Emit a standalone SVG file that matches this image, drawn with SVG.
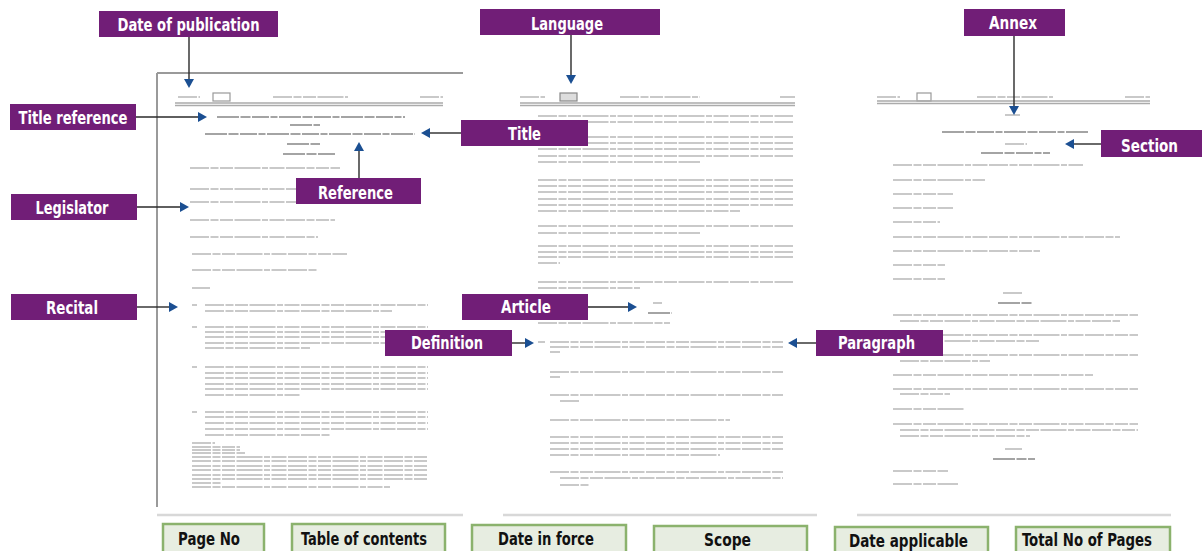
<svg xmlns="http://www.w3.org/2000/svg" width="1203" height="551" viewBox="0 0 1203 551">
  <style>
    .lbl rect { fill: #711e77; }
    .lbl text { fill: #ffffff; font-family: "Liberation Sans Narrow", "DejaVu Sans Condensed", "Liberation Sans", sans-serif; font-weight: bold; font-size: 18.5px; text-anchor: middle; }
    .tag rect { fill: #e7ede1; stroke: #8bb26d; stroke-width: 2.5; }
    .tag text { fill: #111111; font-family: "Liberation Sans Narrow", "DejaVu Sans Condensed", "Liberation Sans", sans-serif; font-weight: bold; font-size: 18.5px; text-anchor: middle; }
    .tl { fill: none; stroke: #c9c9c9; stroke-width: 2; stroke-dasharray: 19 1.5 8 1.5 13 1.5 26 1.5 6 1.5 15 1.5; }
    .td { fill: none; stroke: #a4a4a4; stroke-width: 2.2; stroke-dasharray: 22 1.5 10 1.5 17 1.5 7 1.5; }
    .rule { fill: none; stroke: #ababab; stroke-width: 1.3; }
    .frame { fill: none; stroke: #9a9a9a; stroke-width: 2; }
    .edge { fill: none; stroke: #d8d8d8; stroke-width: 2.5; }
    .conn line { stroke: #2a2a2a; stroke-width: 1.4; marker-end: url(#ah); }
  </style>
  <defs>
    <marker id="ah" viewBox="0 0 9 10" refX="0" refY="5" markerWidth="9" markerHeight="10" markerUnits="userSpaceOnUse" orient="auto">
      <path d="M0,0 L9,5 L0,10 Z" fill="#1b4f92"/>
    </marker>
  </defs>

  <rect width="1203" height="551" fill="#ffffff"/>

  <!-- Page 1: directive first page -->
  <g id="page1">
    <path class="frame" d="M157,73 H463 M157,73 V507"/>
    <path class="edge" d="M157,515 H463"/>
    <path class="tl" d="M178,97 H200 M273,97 H348 M420,97 H443"/>
    <rect x="213" y="93" width="17" height="8" fill="none" stroke="#999" stroke-width="1.2"/>
    <path class="rule" d="M175,103 H443 M175,105.5 H443"/>
    <path class="td" d="M217,117 H405 M290,125 H320 M205,134 H415 M287,144 H320 M283,154 H335"/>
    <path class="tl" d="M190,168 H340 M190,189 H310 M190,202 H310 M190,220 H335 M190,237 H318 M192,254 H347 M192,270 H318 M192,288 H210"/>
    <path class="tl" d="M192,305 H197 M192,327 H197 M192,367 H197 M192,412 H197"/>
    <path class="tl" d="M205,305 H428 M205,311 H392
      M205,327 H428 M205,332 H428 M205,337 H428 M205,343 H428 M205,348 H310
      M205,367 H428 M205,373 H428 M205,378 H428 M205,384 H428 M205,389 H428 M205,395 H300
      M205,412 H428 M205,417 H428 M205,423 H428 M205,429 H428 M205,435 H330"/>
    <path class="tl" d="M192,443 H215 M192,447 H240 M192,450 H240 M192,453 H245
      M192,457 H428 M192,461 H428 M192,466 H428 M192,470 H428 M192,475 H428 M192,479 H428 M192,483 H222 M192,487 H390"/>
  </g>

  <!-- Page 2: articles page -->
  <g id="page2">
    <path class="edge" d="M503,515 H817"/>
    <path class="tl" d="M520,97 H545 M620,97 H700 M780,97 H795"/>
    <rect x="560" y="93" width="17" height="8" fill="#dddddd" stroke="#888" stroke-width="1.2"/>
    <path class="rule" d="M520,103 H795 M520,105.5 H795"/>
    <path class="tl" d="M538,116 H793 M538,122 H793
      M538,137 H793 M538,143 H793 M538,149 H793 M538,156 H793 M538,162 H700
      M538,180 H793 M538,186 H793 M538,192 H793 M538,199 H793 M538,205 H793 M538,211 H740
      M538,226 H793 M538,233 H700
      M538,246 H793 M538,252 H793 M538,257 H793 M538,263 H560
      M538,282 H793 M538,288 H640"/>
    <path class="tl" d="M653,303 H662"/>
    <path class="td" d="M648,313 H672"/>
    <path class="tl" d="M538,323 H670
      M538,342 H545 M550,342 H783 M550,347 H783 M550,352 H560
      M550,372 H783 M550,377 H560
      M550,395 H783 M560,401 H580
      M550,420 H730
      M550,437 H783 M550,443 H783 M550,449 H783 M550,455 H720
      M550,472 H783 M560,478 H783 M560,485 H590"/>
  </g>

  <!-- Page 3: annex page -->
  <g id="page3">
    <path class="edge" d="M857,515 H1171"/>
    <path class="tl" d="M877,97 H900 M977,97 H1053 M1125,97 H1150"/>
    <rect x="917" y="93" width="14" height="8" fill="none" stroke="#999" stroke-width="1.2"/>
    <path class="rule" d="M877,101 H1150 M877,103.5 H1150"/>
    <path class="tl" d="M1005,115 H1020 M1005,144 H1027 M1003,293 H1023 M1005,449 H1022"/>
    <path class="td" d="M942,132 H1088 M981,153 H1050 M998,303 H1032 M993,459 H1035"/>
    <path class="tl" d="M893,165 H1083 M893,180 H985 M893,194 H953 M893,208 H953 M893,222 H940
      M893,237 H1120 M893,251 H1040 M893,265 H945 M893,279 H945
      M893,315 H1138 M900,321 H1120
      M893,335 H1138 M900,341 H1040
      M893,355 H1138 M900,361 H990
      M893,375 H1093
      M893,389 H1138 M900,394 H950
      M893,409 H965
      M893,424 H1138 M900,430 H1138 M900,436 H1030
      M893,471 H948 M893,484 H958"/>
  </g>

  <!-- Connectors -->
  <g id="connectors" class="conn">
    <line x1="189" y1="37" x2="189" y2="79"/>
    <line x1="136" y1="117" x2="198" y2="117"/>
    <line x1="137" y1="207" x2="180" y2="207"/>
    <line x1="137" y1="307" x2="169" y2="307"/>
    <line x1="359" y1="178" x2="359" y2="151"/>
    <line x1="461" y1="133" x2="430" y2="133"/>
    <line x1="571" y1="35" x2="571" y2="75"/>
    <line x1="588" y1="307" x2="628" y2="307"/>
    <line x1="512" y1="343" x2="525" y2="343"/>
    <line x1="816" y1="343" x2="797" y2="343"/>
    <line x1="1014" y1="36" x2="1014" y2="106"/>
    <line x1="1101" y1="144" x2="1074" y2="144"/>
  </g>

  <!-- Callout labels -->
  <g id="date-of-publication" class="lbl"><rect x="99" y="11" width="179" height="26"/><text x="188.5" y="31" textLength="142" lengthAdjust="spacingAndGlyphs">Date of publication</text></g>
  <g id="title-reference" class="lbl"><rect x="10" y="104" width="126" height="26"/><text x="73" y="124" textLength="109" lengthAdjust="spacingAndGlyphs">Title reference</text></g>
  <g id="legislator" class="lbl"><rect x="11" y="194" width="126" height="26"/><text x="72" y="214" textLength="73" lengthAdjust="spacingAndGlyphs">Legislator</text></g>
  <g id="recital" class="lbl"><rect x="11" y="294" width="126" height="26"/><text x="72" y="314" textLength="52" lengthAdjust="spacingAndGlyphs">Recital</text></g>
  <g id="reference" class="lbl"><rect x="296" y="178" width="125" height="26"/><text x="355.5" y="199" textLength="75" lengthAdjust="spacingAndGlyphs">Reference</text></g>
  <g id="title" class="lbl"><rect x="461" y="120" width="127" height="26"/><text x="524.5" y="140" textLength="33" lengthAdjust="spacingAndGlyphs">Title</text></g>
  <g id="language" class="lbl"><rect x="480" y="9" width="180" height="26"/><text x="567" y="30" textLength="72" lengthAdjust="spacingAndGlyphs">Language</text></g>
  <g id="article" class="lbl"><rect x="462" y="294" width="126" height="26"/><text x="526" y="313" textLength="50" lengthAdjust="spacingAndGlyphs">Article</text></g>
  <g id="definition" class="lbl"><rect x="385" y="330" width="127" height="26"/><text x="447" y="349" textLength="72" lengthAdjust="spacingAndGlyphs">Definition</text></g>
  <g id="paragraph" class="lbl"><rect x="816" y="330" width="127" height="26"/><text x="876.5" y="349" textLength="77" lengthAdjust="spacingAndGlyphs">Paragraph</text></g>
  <g id="annex" class="lbl"><rect x="964" y="9" width="101" height="27"/><text x="1013" y="29" textLength="48" lengthAdjust="spacingAndGlyphs">Annex</text></g>
  <g id="section" class="lbl"><rect x="1101" y="130" width="101" height="27"/><text x="1149.5" y="152" textLength="57" lengthAdjust="spacingAndGlyphs">Section</text></g>

  <!-- Metadata tags -->
  <g id="page-no" class="tag"><rect x="163" y="524" width="101" height="32"/><text x="209" y="545" textLength="62" lengthAdjust="spacingAndGlyphs">Page No</text></g>
  <g id="table-of-contents" class="tag"><rect x="292" y="524" width="153" height="32"/><text x="364" y="545" textLength="126" lengthAdjust="spacingAndGlyphs">Table of contents</text></g>
  <g id="date-in-force" class="tag"><rect x="472" y="525" width="154" height="32"/><text x="546" y="545" textLength="96" lengthAdjust="spacingAndGlyphs">Date in force</text></g>
  <g id="scope" class="tag"><rect x="654" y="526" width="153" height="32"/><text x="727.5" y="546" textLength="47" lengthAdjust="spacingAndGlyphs">Scope</text></g>
  <g id="date-applicable" class="tag"><rect x="835" y="527" width="153" height="32"/><text x="908.5" y="547" textLength="119" lengthAdjust="spacingAndGlyphs">Date applicable</text></g>
  <g id="total-no-of-pages" class="tag"><rect x="1016" y="527" width="154" height="32"/><text x="1087" y="546" textLength="130" lengthAdjust="spacingAndGlyphs">Total No of Pages</text></g>
</svg>
